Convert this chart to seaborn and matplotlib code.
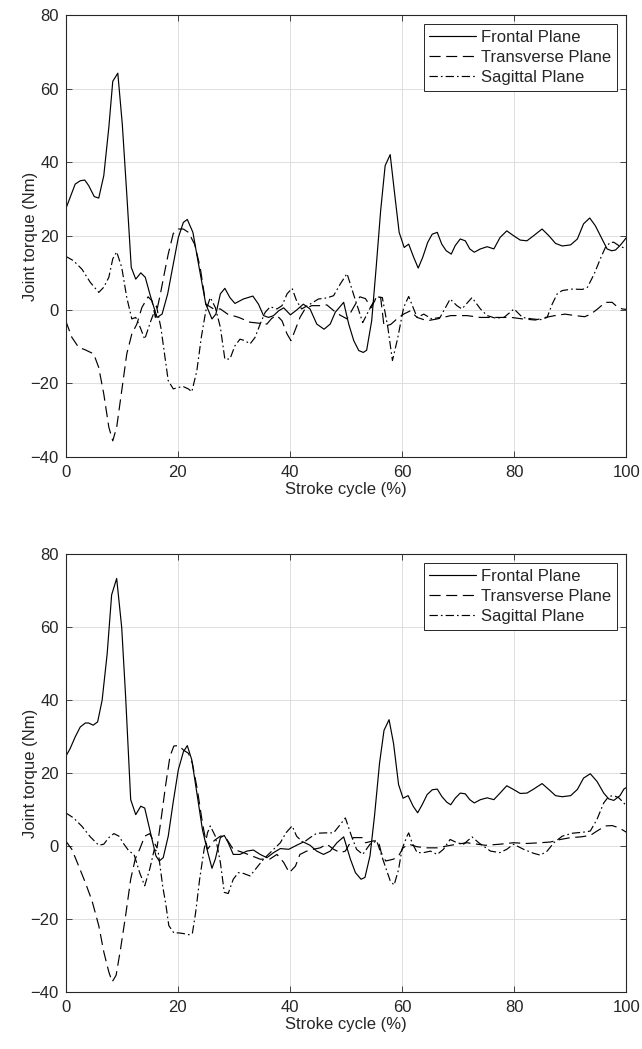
import numpy as np
import pandas as pd
import matplotlib
matplotlib.use("Agg")
import matplotlib.pyplot as plt
import seaborn as sns

# ---------------- data ----------------
top_frontal_x = [0,1.7,2.6,3.4,4.1,5.1,5.9,6.8,7.7,8.4,9.3,10.1,10.9,11.7,12.5,13.4,14.2,15.1,16.3,17.2,18.2,19.2,20.1,21,21.7,22.7,23.7,25,26.1,26.8,27.6,28.4,29.3,30.2,31.7,33.4,34.4,35.3,36.2,37.1,38,38.9,40.1,41.2,42.4,43.6,44.8,46.1,47.2,48.1,49.6,50.5,51.4,52.3,53.1,53.7,54.6,55.4,56.2,57,57.9,58.7,59.5,60.4,61.2,62.1,62.9,63.7,64.6,65.4,66.3,67.1,67.9,68.8,69.5,70.4,71.3,72.1,72.9,74,75.2,76.4,77.5,78.7,79.9,81.1,82.3,83.5,85,86.2,87.4,88.6,90.1,91.3,92.4,93.5,94.5,95.7,96.6,97.4,98.1,98.9,99.6,100]
top_frontal_y = [27.3,34.1,35,35.2,33.7,30.7,30.3,36.4,49.5,62,64.2,50.4,31.4,11.5,8.3,10,8.8,3.8,-2.1,-1.2,4.3,12.4,19.6,23.7,24.5,21,12.4,1.5,-2.5,-1.2,4.3,5.8,3.3,1.7,2.9,3.7,1.5,-1.6,-2.1,-1.6,-0.3,0.5,-1.4,-0.1,1.5,0.2,-3.9,-5.3,-3.9,-0.7,2.0,-3.9,-8.4,-11.1,-11.6,-11,-3,11.5,26.9,39.1,42.1,31.4,21,16.9,17.8,14.2,11.3,14.2,18.3,20.5,21,17.8,16,15.1,17.4,19.2,18.7,16.5,15.6,16.5,17.1,16.5,19.6,21.4,20.1,18.9,18.7,20.1,21.9,20.1,18,17.3,17.6,19.2,23.3,24.9,22.8,19.2,16.5,16,16.2,17.4,18.7,19.5]

top_transverse_x = [0,1.1,2.3,3.5,5,5.9,6.8,7.7,8.4,9.1,10,10.9,11.8,12.7,13.6,14.7,15.4,16,16.9,17.7,18.3,19.2,20.1,21,21.9,23,24,25,26.4,27.6,28.9,30.9,32.9,35.9,36.8,37.7,38.6,39.5,40.2,40.9,41.8,42.7,43.9,45.4,46.6,48.4,50.2,51.5,52.5,53.5,54.5,55.5,56.2,56.8,58,59.1,60.3,61.5,62.7,64.5,66.3,68.7,71.6,74,75.2,77.5,79.5,81.5,83.8,85.6,87.3,89.1,90.9,92.6,93.7,94.9,96.3,97.5,98.4,99.3,100]
top_transverse_y = [-3,-7.5,-10.2,-10.9,-12,-15.7,-22.9,-31.9,-35.6,-31.9,-22,-12,-6.6,-3.9,0.6,3.5,2.4,-2.1,4.3,10.6,15.1,20.7,21.9,21.9,21,17.8,11.5,1.5,0.2,0.2,-1.2,-2.1,-3.4,-3.9,-2.3,-1.6,-3,-6.6,-8.4,-5.7,-2.1,0.2,1.1,1.1,1.3,-1,-2.5,1,3.5,3,0.5,3.5,3.3,-4.5,-4,-2.5,-1.2,-0.3,-2.1,-3,-2.5,-1.6,-1.6,-2.1,-2.1,-2.1,-2.1,-2.5,-2.8,-2.1,-1.6,-1.2,-1.6,-1.9,-1.2,0.2,2,2,0.8,0.2,0.1]

top_sagittal_x = [0,1.4,2.9,4.4,5.9,6.8,7.7,8.4,9.1,10,10.9,11.8,12.5,13.3,14.1,15.2,16.2,17,18.3,19.2,20.1,21,21.9,22.5,23.4,24.2,25,25.8,26.7,27.6,28.4,29.3,30.2,31.1,32,32.9,33.8,34.7,35.6,36.5,37.7,38.6,39.5,40.4,41.2,42.1,43.6,45.1,46.6,47.8,49,50.2,51.5,53,54.5,55.5,56.5,57.5,58.3,59.2,60.3,61.2,62.7,63.9,65.3,66.8,68.6,69.8,70.7,72.5,74,75.2,76.7,78.2,80,81.5,83.2,84.7,85.9,86.8,87.7,88.6,90.4,92.2,93.1,94.3,95.5,96.3,97.2,97.8,98.7,99.4,100]
top_sagittal_y = [14.5,13.3,11,7.4,4.7,6.1,8.8,13.8,15.7,11.5,3.3,-2.5,-2.1,-4.8,-8,-3,1,-5,-19.3,-21.5,-21.1,-20.9,-21.5,-22.3,-16.6,-7.5,-0.3,3.3,0.6,-4.8,-13.4,-13.4,-9.8,-8,-8.4,-9.3,-7.5,-3.9,-0.7,0.8,0.2,1.1,4.3,5.8,2.4,0.2,1.5,2.9,3.2,3.8,7,9.8,3.5,-3.5,1,3.5,3.3,-5,-13.8,-8,0.6,3.6,-2.1,-1.2,-2.5,-2.1,2.9,1.1,0.2,3.3,0.2,-1.6,-2.3,-2.1,0.2,-2.1,-2.5,-2.7,-2.1,1.5,4.3,5.2,5.6,5.5,6.1,9.7,14.2,16.9,18.3,18.3,17.4,16.9,16.5]

bot_frontal_x = [0,0.8,1.7,2.6,3.5,4.1,4.9,5.7,6.5,7.4,8.2,9.1,10,10.7,11.6,12.5,13.4,14.1,15,16.1,16.7,17.4,18.3,19.2,20.1,21,21.7,22.5,23.5,24.4,25.3,26.1,26.7,27.6,28.3,29,29.9,31.1,32.3,33.5,34.7,35.9,37.1,38.3,39.8,41.2,42.4,43.6,44.8,46,47.2,48.4,49.6,50.8,51.7,52.7,53.4,54.3,55.1,56,56.8,57.7,58.5,59.4,60.2,61.1,62,62.8,63.6,64.5,65.4,66.3,67.1,68,68.7,69.5,70.4,71.3,72.1,72.9,74,75.2,76.4,77.5,78.7,79.9,81.1,82.3,83.5,85,86.2,87.4,88.6,90.1,91.3,92.4,93.6,94.8,96,96.9,97.8,98.9,99.6,100]
bot_frontal_y = [24.5,26.7,29.9,32.6,33.7,33.7,33.1,34,39.9,52.6,68.8,73.3,59.8,40.8,12.7,8.6,10.9,10.4,4.5,-2.7,-4.1,-3.2,2.7,12.2,20.9,25.8,27.5,23.6,13.6,4.5,-1.4,-6.1,-3.6,2.3,2.9,0.9,-2.3,-2.3,-1.4,-1.1,-2.3,-3.2,-1.8,-0.7,-0.9,0.2,1.1,0.2,-1.4,-2.3,-1.4,0.9,2.5,-3.6,-7.3,-9.1,-8.6,-2.7,8.2,22.7,31.7,34.6,28.1,16.8,13.1,13.8,10.9,9.1,11.3,14.1,15.4,15.6,13.6,12,11.3,13.1,14.5,14.3,12.7,11.8,12.7,13.2,12.7,14.5,16.5,15.5,14.4,14.5,15.6,17.1,15.5,13.8,13.5,13.8,15.5,18.6,19.8,17.7,14.5,12.9,12.5,13.8,15.6,16]

bot_transverse_x = [0,1.1,2.3,3.5,4.7,5.9,6.8,7.7,8.3,9,9.8,10.7,11.6,12.4,13.2,14.1,15,15.8,16.3,17.1,17.8,18.6,19.3,20.2,21,21.9,22.6,23.5,24.4,25.3,26.5,27.6,28.4,29.9,31.7,33.2,34.7,36.4,37.7,38.9,39.9,41,41.8,43,44.2,45.4,46.6,47.8,49,49.9,51.3,53,53.5,54.9,55.8,56.3,57.1,58.5,59.4,60.2,61.2,62.7,64.5,66.3,68,69.8,71.6,73.4,74.9,77.5,79.9,82.3,84.7,86.5,88.3,90.1,91.9,93.6,94.8,96.3,97.5,98.7,99.7,100]
bot_transverse_y = [1.4,-0.9,-5.4,-10,-15,-21.8,-29,-34.5,-37.2,-35.4,-28.1,-19,-9.1,-3.6,-0.9,2.7,3.4,0.9,-0.5,8.2,16.3,24.5,27.4,27.5,26.3,25.4,22.7,15.4,6.3,-0.9,1.5,2.7,2.7,-0.9,-1.8,-2.7,-3.6,-3.6,-2.3,-4.5,-7.3,-5.5,-2.3,-1.4,-0.9,-0.5,0.5,-0.9,-1.8,-1.4,2.3,2.3,0.9,1.4,1.4,-1.8,-4.1,-3.6,-2.7,-0.5,0.5,-0.2,-0.5,-0.5,0,0.5,0.9,0.5,0.2,0.5,0.9,0.7,0.9,1.1,1.8,2.3,2.5,2.9,4.1,5.5,5.6,5,4.1,3.8]

bot_sagittal_x = [0,1.4,2.9,4.4,5.9,6.8,7.7,8.6,9.5,10.4,11.3,12.2,13.2,14.1,15,15.8,16.5,17.3,17.9,18.4,19.3,20.2,21.1,22,22.6,23.2,23.9,24.7,25.3,25.8,26.7,27.6,28.3,29,29.9,30.8,31.7,32.9,34.1,35.3,36.5,38.3,39.3,40.4,41.2,42.4,43.6,44.8,46.3,47.8,49,49.9,51,51.9,53,54.3,55.5,57,57.9,58.6,59.4,60,60.9,61.2,61.8,62.7,63.9,65.1,66.3,67.4,68.6,69.8,71,72.5,73.7,75.8,77.5,78.7,79.9,81.7,83.5,84.7,85.9,87.1,88.6,90.4,92.4,93.6,94.8,96,96.9,97.8,98.7,99.7,100]
bot_sagittal_y = [9.1,7.7,5.4,2.5,0.2,0.5,2.3,3.4,2.7,0.5,-1.4,-2.3,-7.3,-10.9,-6.3,-1,-1.5,-10.9,-16.3,-21.8,-23.8,-23.8,-24,-24.3,-24,-18.1,-9.1,-0.9,3.6,5.5,2.7,-4.5,-12.7,-13,-9.1,-7.3,-7.5,-8.2,-5.9,-3.6,-1.8,0.9,3.6,5.5,2.7,0.9,2.3,3.5,3.6,3.6,5.9,7.7,2.7,-0.9,-2.3,0.5,1.4,-5.5,-9.5,-10.7,-6.4,-0.9,2.7,3.6,0.9,-1.8,-1.8,-1.4,-2.3,-0.9,1.8,0.9,0.5,2.5,0.9,-1.4,-1.8,-0.9,0.5,-0.9,-2,-2.5,-1.4,0.9,2.7,3.5,3.8,4.1,7.3,11.8,13.6,13.8,13.2,11.6,11]

series_labels = ["Frontal Plane", "Transverse Plane", "Sagittal Plane"]
x_ticks = [0, 20, 40, 60, 80, 100]
y_ticks = [-40, -20, 0, 20, 40, 60, 80]
x_label = "Stroke cycle (%)"
y_label = "Joint torque (Nm)"

panels = [
    [(top_frontal_x, top_frontal_y), (top_transverse_x, top_transverse_y), (top_sagittal_x, top_sagittal_y)],
    [(bot_frontal_x, bot_frontal_y), (bot_transverse_x, bot_transverse_y), (bot_sagittal_x, bot_sagittal_y)],
]
for p in panels:
    for xs, ys in p:
        assert len(xs) == len(ys), (len(xs), len(ys))

# ---------------- style ----------------
sns.set_theme(style="white")
plt.rcParams['font.family'] = ['Liberation Sans', 'DejaVu Sans']
plt.rcParams['lines.scale_dashes'] = False
dark = '#262626'
fs = 12
dash_styles = [None, (0, (8.0, 4.0)), (0, (6.0, 2.2, 1.2, 2.2))]

fig = plt.figure(figsize=(6.42, 10.49), dpi=100)
ax_rects = [[0.1023, 0.5643, 0.8730, 0.4214], [0.1023, 0.0543, 0.8730, 0.4176]]

for rect, pdata in zip(ax_rects, panels):
    ax = fig.add_axes(rect)
    for (xs, ys), lab, ds in zip(pdata, series_labels, dash_styles):
        df = pd.DataFrame({"x": xs, "y": ys})
        sns.lineplot(data=df, x="x", y="y", ax=ax, color='black', linewidth=0.85,
                     label=lab, sort=False, estimator=None)
        if ds is not None:
            ax.lines[-1].set_linestyle(ds)
    ax.set_xlim(0, 100)
    ax.set_ylim(-40, 80)
    ax.set_xticks(x_ticks)
    ax.set_yticks(y_ticks)
    ax.grid(True, color='#dedede', linewidth=0.7)
    ax.set_axisbelow(True)
    for s in ax.spines.values():
        s.set_color(dark)
        s.set_linewidth(0.8)
    ax.tick_params(direction='in', length=4, width=0.6, color=dark, labelcolor=dark,
                   labelsize=fs, top=True, right=True, bottom=True, left=True)
    ax.tick_params(axis='x', pad=6)
    ax.tick_params(axis='y', pad=5)
    ax.set_xlabel(x_label, fontsize=fs, color=dark, labelpad=1)
    ax.set_ylabel(y_label, fontsize=fs, color=dark)
    ax.yaxis.set_label_coords(-0.05, 0.5)
    leg = ax.legend(loc='upper right', fancybox=False, framealpha=1, edgecolor=dark,
                    fontsize=fs, handlelength=2.8, handletextpad=0.3, borderpad=0.35,
                    labelspacing=0.3, borderaxespad=0.55)
    leg.get_frame().set_linewidth(0.7)

fig.savefig("out.png", dpi=100)
